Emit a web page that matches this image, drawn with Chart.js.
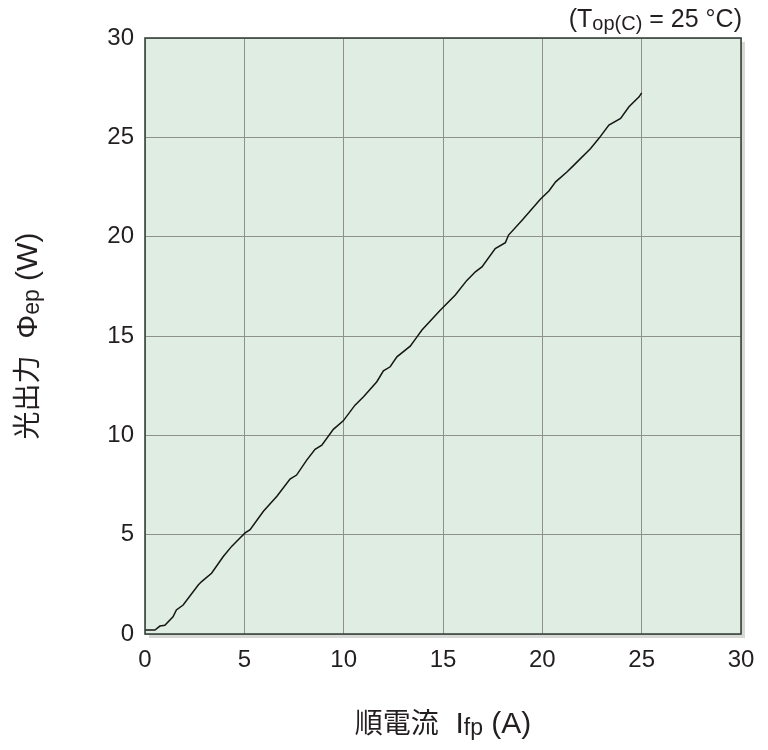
<!DOCTYPE html>
<html>
<head>
<meta charset="utf-8">
<script src="https://cdn.jsdelivr.net/npm/chart.js@4.4.1/dist/chart.umd.min.js"></script>
<style>
html,body{margin:0;padding:0;background:#fff;}
#wrap{width:768px;height:750px;}
</style>
</head>
<body>
<div id="wrap"><canvas id="c" width="768" height="750"></canvas></div>
<script>
// Forward current I_fp (A)
const currentA = [0, 0.5, 0.75, 1.0, 1.41, 1.58, 1.92, 2.68, 2.85, 3.35, 3.94, 4.36, 4.78, 5.04, 5.29, 5.96, 6.64, 7.3, 7.63, 8.14, 8.56, 8.9, 9.48, 9.98, 10.57, 11.0, 11.67, 12.0, 12.34, 12.68, 13.35, 13.6, 13.94, 14.86, 15.62, 16.2, 16.63, 16.96, 17.63, 18.14, 18.3, 18.98, 19.9, 20.33, 20.67, 21.25, 21.59, 22.43, 22.85, 23.35, 23.94, 24.36, 24.87, 25.0];
// Optical output Φep (W)
const outputW = [0.2, 0.2, 0.4, 0.44, 0.87, 1.21, 1.46, 2.47, 2.64, 3.06, 3.9, 4.41, 4.83, 5.09, 5.25, 6.18, 6.93, 7.8, 8.0, 8.75, 9.3, 9.5, 10.3, 10.73, 11.52, 11.94, 12.7, 13.25, 13.45, 13.95, 14.49, 14.83, 15.3, 16.3, 17.06, 17.8, 18.23, 18.48, 19.4, 19.7, 20.08, 20.83, 21.88, 22.3, 22.76, 23.27, 23.6, 24.44, 24.95, 25.62, 25.95, 26.54, 27.04, 27.24];
const xTicks = [0, 5, 10, 15, 20, 25, 30];
const yTicks = [0, 5, 10, 15, 20, 25, 30];

const LAT = '"Liberation Sans", Arial, Helvetica, sans-serif';
const CJK = '"Noto Sans CJK JP", "Noto Sans CJK SC", sans-serif';
const TXT = '#231f20';

function richWidth(ctx, parts) {
  let w = 0;
  for (const p of parts) { ctx.font = p.size + 'px ' + p.fam; w += ctx.measureText(p.t).width; }
  return w;
}
function drawRich(ctx, parts, x, y, align) {
  const w = richWidth(ctx, parts);
  let cx = align === 'center' ? x - w / 2 : (align === 'right' ? x - w : x);
  ctx.textBaseline = 'alphabetic';
  ctx.textAlign = 'left';
  ctx.fillStyle = TXT;
  for (const p of parts) {
    ctx.font = p.size + 'px ' + p.fam;
    ctx.fillText(p.t, cx, y + (p.dy || 0));
    cx += ctx.measureText(p.t).width;
  }
}

const decor = {
  id: 'decor',
  beforeDraw(chart) {
    const {ctx, chartArea: a} = chart;
    ctx.save();
    ctx.fillStyle = '#d6d9d6';
    ctx.fillRect(a.left + 4, a.top + 4, a.right - a.left, a.bottom - a.top);
    ctx.fillStyle = '#e0ede2';
    ctx.fillRect(a.left, a.top, a.right - a.left, a.bottom - a.top);
    ctx.restore();
  },
  afterDraw(chart) {
    const {ctx, chartArea: a} = chart;
    ctx.save();
    ctx.strokeStyle = '#3c4540';
    ctx.lineWidth = 1.6;
    ctx.strokeRect(a.left, a.top, a.right - a.left, a.bottom - a.top);
    // x-axis title
    drawRich(ctx, [
      {t: '順電流', size: 28, fam: CJK},
      {t: '  I', size: 30, fam: LAT},
      {t: 'fp', size: 23, fam: LAT, dy: 2},
      {t: ' (A)', size: 30, fam: LAT}
    ], (a.left + a.right) / 2, 733, 'center');
    // y-axis title
    ctx.translate(37, (a.top + a.bottom) / 2);
    ctx.rotate(-Math.PI / 2);
    drawRich(ctx, [
      {t: '光出力', size: 28, fam: CJK},
      {t: '  Φ', size: 30, fam: LAT},
      {t: 'ep', size: 23, fam: LAT, dy: 2},
      {t: ' (W)', size: 30, fam: LAT}
    ], 0, 0, 'center');
    ctx.restore();
    ctx.save();
    drawRich(ctx, [
      {t: '(T', size: 25, fam: LAT},
      {t: 'op(C)', size: 20, fam: LAT, dy: 3},
      {t: ' = 25 °C)', size: 25, fam: LAT}
    ], 742, 27, 'right');
    ctx.restore();
  }
};

new Chart(document.getElementById('c'), {
  type: 'scatter',
  data: {
    datasets: [{
      data: currentA.map((x, i) => ({x: x, y: outputW[i]})),
      showLine: true,
      borderColor: '#151515',
      borderWidth: 1.5,
      pointRadius: 0,
      tension: 0
    }]
  },
  options: {
    responsive: false,
    animation: false,
    layout: {padding: {top: 38, right: 27, left: 0, bottom: 0}},
    plugins: {legend: {display: false}, tooltip: {enabled: false}, title: {display: false}},
    scales: {
      x: {
        type: 'linear', min: 0, max: 30,
        afterBuildTicks: s => { s.ticks = xTicks.map(v => ({value: v})); },
        afterFit: s => { s.height = 116; },
        ticks: {font: {family: LAT, size: 24}, color: TXT, padding: 12, maxRotation: 0, autoSkip: false},
        grid: {color: '#8e908a', lineWidth: 1, drawTicks: false},
        border: {display: false}
      },
      y: {
        type: 'linear', min: 0, max: 30,
        afterBuildTicks: s => { s.ticks = yTicks.map(v => ({value: v})); },
        afterFit: s => { s.width = 145; },
        ticks: {font: {family: LAT, size: 24}, color: TXT, padding: 11, autoSkip: false},
        grid: {color: '#8e908a', lineWidth: 1, drawTicks: false},
        border: {display: false}
      }
    }
  },
  plugins: [decor]
});
</script>
</body>
</html>
